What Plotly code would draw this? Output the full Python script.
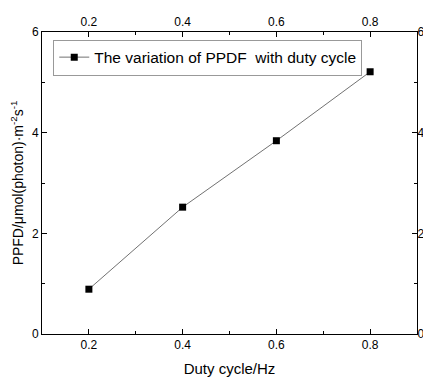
import plotly.graph_objects as go

duty = [0.2, 0.4, 0.6, 0.8]
ppfd = [0.89, 2.52, 3.84, 5.21]
x_ticks = [0.2, 0.4, 0.6, 0.8]
y_ticks = [0, 2, 4, 6]

fig = go.Figure()
fig.add_trace(go.Scatter(
    x=duty, y=ppfd, mode="lines+markers",
    name="The variation of PPDF  with duty cycle",
    line=dict(color="#333333", width=0.7),
    marker=dict(symbol="square", size=7, color="black"),
))
fig.add_trace(go.Scatter(x=duty, y=ppfd, xaxis="x2", yaxis="y2",
                         mode="markers", marker=dict(opacity=0),
                         showlegend=False, hoverinfo="skip"))

ax = dict(showline=True, linecolor="black", linewidth=1, ticks="inside",
          ticklen=5, tickcolor="black", showgrid=False, zeroline=False,
          automargin=False,
          tickfont=dict(family="Liberation Sans, Arial", size=12, color="black"))

# page body has an 8px margin, so the figure is sized to fit the window
fig.update_layout(
    width=423, height=369,
    margin=dict(l=34, r=14, t=24, b=43),
    plot_bgcolor="white", paper_bgcolor="white",
    font=dict(family="Liberation Sans, Arial", color="black"),
    showlegend=True,
    legend=dict(x=0.03, y=0.975, xanchor="left", yanchor="top",
                bordercolor="#999999", borderwidth=1, bgcolor="white",
                font=dict(size=15.5), itemwidth=30,
                tracegroupgap=0),
    xaxis=dict(range=[0.1, 0.9], tickvals=x_ticks, ticktext=[str(v) for v in x_ticks],
               minor=dict(dtick=0.1, ticks="inside", ticklen=3, tickcolor="black"),
               title=dict(text="Duty cycle/Hz", font=dict(size=15), standoff=12), **ax),
    xaxis2=dict(range=[0.1, 0.9], overlaying="x", side="top", tickvals=x_ticks,
                ticktext=[str(v) for v in x_ticks],
                minor=dict(dtick=0.1, ticks="inside", ticklen=3, tickcolor="black"),
                **ax),
    yaxis=dict(range=[0, 6], tickvals=y_ticks, ticktext=[str(v) for v in y_ticks],
               minor=dict(dtick=1, ticks="inside", ticklen=3, tickcolor="black"),
               title=dict(text="PPFD/μmol(photon)·m<sup>-2</sup>s<sup>-1</sup>",
                          font=dict(size=14), standoff=6), **ax),
    yaxis2=dict(range=[0, 6], overlaying="y", side="right", tickvals=y_ticks,
                ticktext=[str(v) for v in y_ticks], ticklabelstandoff=-3,
                minor=dict(dtick=1, ticks="inside", ticklen=3, tickcolor="black"),
                **ax),
)

fig.write_html("out.html")
